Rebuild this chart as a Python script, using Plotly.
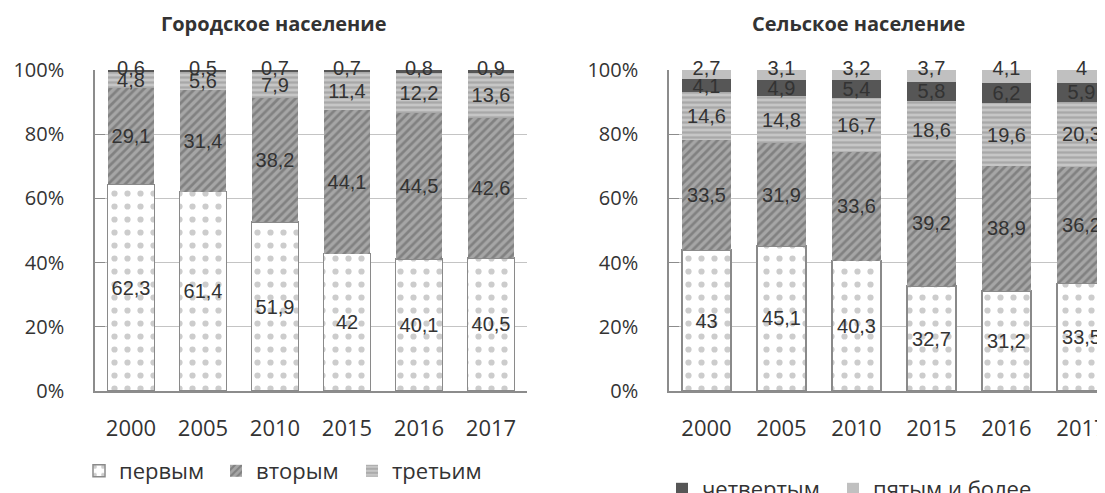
import plotly.graph_objects as go
from plotly.subplots import make_subplots

YEARS = ["2000", "2005", "2010", "2015", "2016", "2017"]
Y_TICKS = [0, 20, 40, 60, 80, 100]

# Городское население
URBAN_FIRST = [62.3, 61.4, 51.9, 42, 40.1, 40.5]
URBAN_SECOND = [29.1, 31.4, 38.2, 44.1, 44.5, 42.6]
URBAN_THIRD = [4.8, 5.6, 7.9, 11.4, 12.2, 13.6]
URBAN_FOURTH = [0.6, 0.5, 0.7, 0.7, 0.8, 0.9]

# Сельское население
RURAL_FIRST = [43, 45.1, 40.3, 32.7, 31.2, 33.5]
RURAL_SECOND = [33.5, 31.9, 33.6, 39.2, 38.9, 36.2]
RURAL_THIRD = [14.6, 14.8, 16.7, 18.6, 19.6, 20.3]
RURAL_FOURTH = [4.1, 4.9, 5.4, 5.8, 6.2, 5.9]
RURAL_FIFTH = [2.7, 3.1, 3.2, 3.7, 4.1, 4]

TEXT_COLOR = "#333333"
GRID_COLOR = "#c4c4c4"
AXIS_COLOR = "#8c8c8c"
LABEL_FONT = {"family": "Liberation Sans", "size": 20, "color": TEXT_COLOR}

# the page body has an 8px margin, so the figure is drawn 8px in and 8px down
OFF = 8
FW, FH = 1105 - OFF, 493 - OFF


def fx(px):
    return (px - OFF) / FW


def fy(py):
    return 1 - (py - OFF) / FH


SERIES_STYLE = {
    "первым": {"pattern": {"shape": ".", "fgcolor": "#9a9a9a", "bgcolor": "white",
                            "size": 13, "solidity": 0.18},
               "line": {"color": "#8a8a8a", "width": 1.5}},
    "вторым": {"pattern": {"shape": "/", "fgcolor": "#5c5c5c", "bgcolor": "#a6a6a6",
                            "size": 6, "solidity": 0.45}},
    "третьим": {"pattern": {"shape": "-", "fgcolor": "#8a8a8a", "bgcolor": "#c6c6c6",
                             "size": 5, "solidity": 0.45}},
    "четвертым": {"color": "#565656"},
    "пятым и более": {"color": "#c0c0c0"},
}

# one legend per entry so each can sit where the original has it
LEGEND_OF = {
    "первым": "legend",
    "вторым": "legend2",
    "третьим": "legend3",
    "четвертым": "legend4",
    "пятым и более": "legend5",
}


def fmt(values):
    return [f"{v:g}".replace(".", ",") for v in values]


def add_bar(fig, col, name, values, showlegend, labels=True):
    style = SERIES_STYLE[name]
    marker = {"color": style.get("color", "white"), "line": style.get("line", {"width": 0})}
    if "pattern" in style:
        marker["pattern"] = style["pattern"]
    fig.add_trace(
        go.Bar(
            x=YEARS,
            y=values,
            name=name,
            text=fmt(values) if labels else None,
            textposition="inside",
            insidetextanchor="middle",
            textangle=0,
            cliponaxis=False,
            textfont=LABEL_FONT,
            marker=marker,
            legend=LEGEND_OF[name],
            showlegend=showlegend,
        ),
        row=1,
        col=col,
    )


def add_top_labels(fig, col, values):
    # labels of the thin top segment sit on the 100% line
    fig.add_trace(
        go.Scatter(
            x=YEARS,
            y=[100] * len(values),
            mode="text",
            text=fmt(values),
            textposition="middle center",
            textfont=LABEL_FONT,
            cliponaxis=False,
            showlegend=False,
            hoverinfo="skip",
        ),
        row=1,
        col=col,
    )


fig = make_subplots(rows=1, cols=2)

add_bar(fig, 1, "первым", URBAN_FIRST, True)
add_bar(fig, 1, "вторым", URBAN_SECOND, True)
add_bar(fig, 1, "третьим", URBAN_THIRD, True)
add_bar(fig, 1, "четвертым", URBAN_FOURTH, False, labels=False)
add_top_labels(fig, 1, URBAN_FOURTH)

add_bar(fig, 2, "первым", RURAL_FIRST, False)
add_bar(fig, 2, "вторым", RURAL_SECOND, False)
add_bar(fig, 2, "третьим", RURAL_THIRD, False)
add_bar(fig, 2, "четвертым", RURAL_FOURTH, True)
add_bar(fig, 2, "пятым и более", RURAL_FIFTH, True, labels=False)
add_top_labels(fig, 2, RURAL_FIFTH)


def legend_at(text_x, text_y):
    return {
        "orientation": "h",
        "x": fx(text_x - 41),
        "y": fy(text_y),
        "xanchor": "left",
        "yanchor": "middle",
        "font": {"size": 22, "color": TEXT_COLOR},
        "itemwidth": 30,
        "bgcolor": "rgba(0,0,0,0)",
    }


def title(text, x):
    return {"text": f"<b>{text}</b>", "x": fx(x), "y": fy(24),
            "xref": "paper", "yref": "paper", "xanchor": "center", "yanchor": "middle",
            "showarrow": False, "font": {"size": 20, "color": TEXT_COLOR}}


fig.update_layout(
    width=FW,
    height=FH,
    barmode="stack",
    barnorm="percent",
    bargap=0.35,
    paper_bgcolor="white",
    plot_bgcolor="white",
    margin={"l": 0, "r": 0, "t": 0, "b": 0, "autoexpand": False},
    font={"family": "Open Sans", "color": TEXT_COLOR},
    uniformtext={"mode": "show", "minsize": 20},
    legend=legend_at(120, 471),
    legend2=legend_at(257, 471),
    legend3=legend_at(393, 471),
    legend4=legend_at(703, 489),
    legend5=legend_at(874, 489),
    annotations=[title("Городское население", 274), title("Сельское население", 858)],
)

fig.update_xaxes(
    type="category",
    showline=True,
    linecolor=AXIS_COLOR,
    linewidth=1.5,
    showgrid=False,
    ticks="",
    tickfont={"size": 22, "color": TEXT_COLOR},
    ticklabelstandoff=17,
    automargin=False,
)
fig.update_xaxes(domain=[fx(95), fx(527)], range=[-0.5, 5.5], row=1, col=1)
fig.update_xaxes(domain=[fx(669), 1.0], range=[-0.5, -0.5 + (1105 - 669) / 75], row=1, col=2)

fig.update_yaxes(
    domain=[fy(391), fy(70)],
    range=[0, 100],
    tickmode="array",
    tickvals=Y_TICKS,
    ticktext=[f"{v}%" for v in Y_TICKS],
    showline=True,
    linecolor=AXIS_COLOR,
    linewidth=1.5,
    showgrid=True,
    gridcolor=GRID_COLOR,
    gridwidth=1.2,
    ticks="inside",
    ticklen=10,
    tickcolor=AXIS_COLOR,
    tickfont={"size": 20, "color": TEXT_COLOR},
    ticklabelstandoff=25,
    zeroline=False,
    automargin=False,
)

fig.write_html("out.html")
